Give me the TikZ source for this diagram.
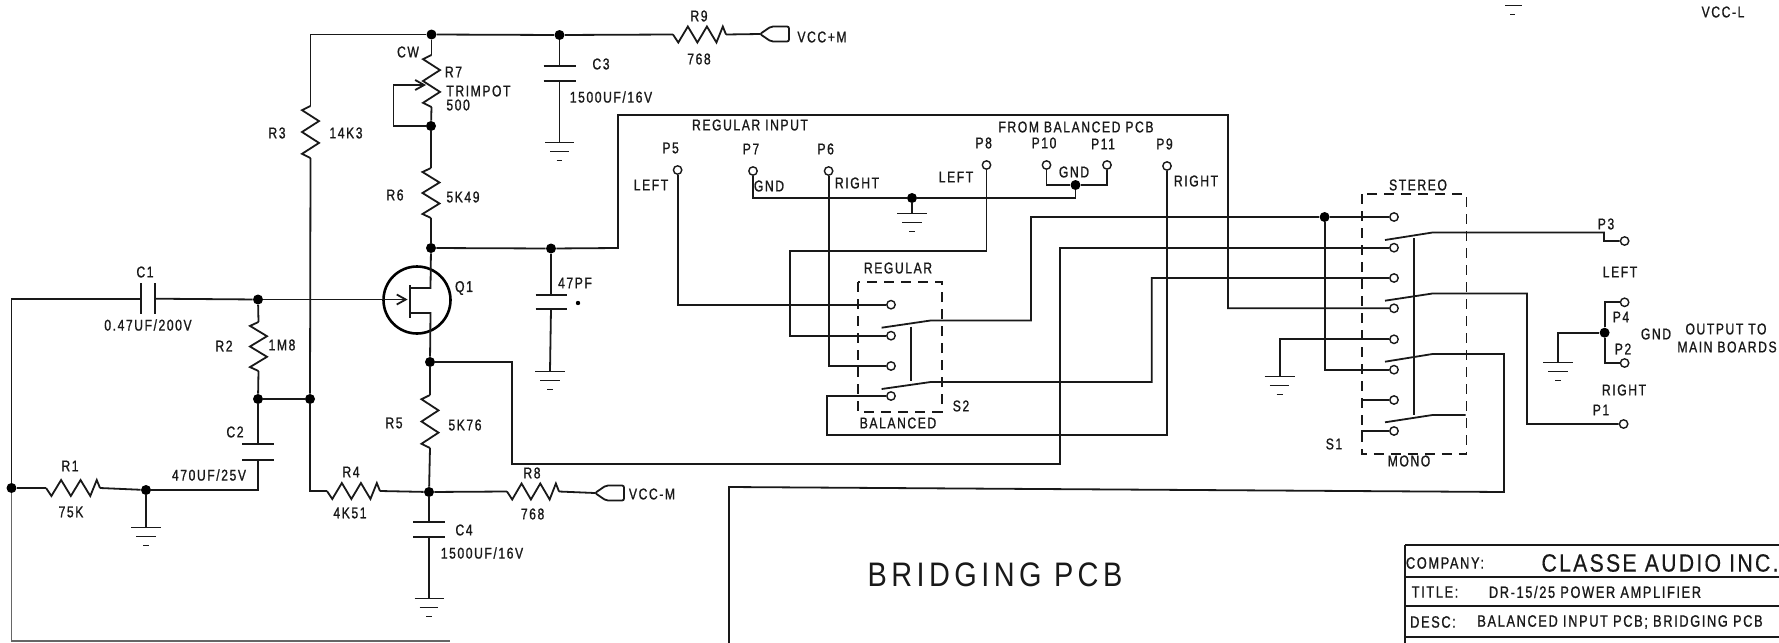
\documentclass[tikz,border=0pt]{standalone}
\usepackage{fontspec}
\setmainfont{Liberation Sans}[FakeStretch=0.78,LetterSpace=10,FakeBold=1]
\newfontfamily\bigf{Liberation Sans}[FakeStretch=0.85,LetterSpace=13]
\newfontfamily\clsf{Liberation Sans}[FakeStretch=0.85,LetterSpace=9,FakeBold=0.4]
\usetikzlibrary{arrows.meta}
\newcommand\lb[4]{\node[lbl] (#1) at (#2,#3) {#4};}
\newcommand\lt[4]{\node[lbl,font=\fontsize{8.2}{10}\selectfont] (#1) at (#2,#3) {#4};}
\newcommand\zigv[4]{%
  \pgfmathsetmacro\hh{#4-#3}
  \coordinate (#1t) at (#2,#3); \coordinate (#1b) at (#2,#4);
  \draw[wire] (#1t) -- ({#2-8.5},{#3+.08*\hh}) -- ({#2+8.5},{#3+.29*\hh}) -- ({#2-8.5},{#3+.5*\hh}) -- ({#2+8.5},{#3+.71*\hh}) -- ({#2-8.5},{#3+.92*\hh}) -- (#1b);}
\newcommand\zigh[4]{%
  \pgfmathsetmacro\hh{#4-#3}
  \coordinate (#1t) at (#3,#2); \coordinate (#1b) at (#4,#2);
  \draw[wire] (#1t) -- ({#3+.1*\hh},{#2+8}) -- ({#3+.28*\hh},{#2-8}) -- ({#3+.46*\hh},{#2+8}) -- ({#3+.64*\hh},{#2-8}) -- ({#3+.82*\hh},{#2+8}) -- ({#3+.94*\hh},{#2-8}) -- (#1b);}
\newcommand\gnd[4]{%
  \coordinate (#1) at (#2,#3);
  \draw[gline] ({#2-#4},#3) -- ({#2+#4},#3);
  \draw[gline] ({#2-.65*#4},{#3+9}) -- ({#2+.65*#4},{#3+9});
  \draw[gline] ({#2-.2*#4},{#3+18}) -- ({#2+.2*#4},{#3+18});}
\newcommand\capv[5]{%
  \coordinate (#1a) at (#2,#3); \coordinate (#1b) at (#2,#4);
  \draw[plate] ({#2-#5},#3) -- ({#2+#5},#3);
  \draw[plate] ({#2-#5},#4) -- ({#2+#5},#4);}
\newcommand\flag[3]{%
  \coordinate (#1) at (#2,#3);
  \draw[wire,rounded corners=1pt] (#1) -- ({#2+11},{#3-7.5}) -- ({#2+29},{#3-7.5}) -- ({#2+29},{#3+7.5}) -- ({#2+11},{#3+7.5}) -- cycle;}
\tikzset{
  wire/.style={line width=0.9pt,black!90},
  gline/.style={line width=0.5pt,black!90},
  plate/.style={line width=1.2pt,black!90},
  dashbox/.style={line width=0.9pt,black!90,dash pattern=on 5pt off 3.5pt},
  lbl/.style={inner sep=0pt,font=\fontsize{7.8}{9}\selectfont,text=black!90,align=center},
  bigl/.style={inner sep=0pt,text=black!90},
  dot/.style={circle,fill=black,inner sep=0pt,minimum size=5pt},
  cont/.style={circle,draw=black!90,line width=0.7pt,fill=white,inner sep=0pt,minimum size=4.2pt}
}
\begin{document}
\begin{tikzpicture}[x=0.5pt,y=-0.5pt]
\useasboundingbox[fill=white] (0,0) rectangle (1779,643);
% junctions
\node[dot] (jA) at (431.5,34.5) {};
\node[dot] (jC3) at (559.5,35) {};
\node[dot] (jR) at (431,126) {};
\node[dot] (jD) at (431,248) {};
\node[dot] (j47) at (551,248.5) {};
\node[dot] (jC1) at (258,299.5) {};
\node[dot] (j2) at (258,399) {};
\node[dot] (j3) at (310,399) {};
\node[dot] (jS) at (430,362) {};
\node[dot] (jB) at (429,492) {};
\node[dot] (jL) at (11.5,488) {};
\node[dot] (jR1) at (146,490) {};
\node[dot] (jg) at (912,198) {};
\node[dot] (jp) at (1075.5,185) {};
\node[dot] (jJ) at (1324.6,217) {};
\node[dot] (jO) at (1604.6,332.7) {};
% resistors
\zigv{R7}{431.5}{55}{107}
\zigv{R3}{310.5}{106}{158}
\zigv{R6}{431}{168}{218}
\zigv{R2}{258.5}{322}{371}
\zigv{R5}{430}{395}{448}
\zigh{R1}{488}{46}{100}
\zigh{R4}{491}{327}{380}
\zigh{R8}{491.5}{507}{559}
\zigh{R9}{34.5}{673}{726}
% capacitors
\capv{C3}{559.5}{66}{81}{16}
\capv{C47}{551}{295}{309}{15.5}
\capv{C2}{258}{444}{460}{16}
\capv{C4}{429}{522}{537}{16}
\coordinate (C1t) at (141,283); \coordinate (C1u) at (141,314);
\coordinate (C1v) at (155,283); \coordinate (C1w) at (155,314);
\draw[wire] (C1t) -- (C1u);
\draw[wire] (C1v) -- (C1w);
\coordinate (C1a) at (141,298.7);
\coordinate (C1b) at (155,298.7);
% grounds
\gnd{gC3}{559.5}{142}{14.5}
\gnd{gC47}{550}{371}{15}
\gnd{gR1}{146}{527}{15}
\gnd{gC4}{429}{598}{14.5}
\gnd{gI}{912}{213}{15}
\gnd{gS}{1279.6}{376.7}{15}
\gnd{gO}{1558}{362.7}{15}
% flags
\flag{fP}{760}{34}
\flag{fM}{595}{493}
% transistor
\node[draw=black,circle,line width=1.3pt,inner sep=0pt,minimum size=33.5pt] (Q1) at (417,300) {};
\coordinate (qd) at (430.5,288); \coordinate (qdg) at (410,288);
\coordinate (qs) at (430.5,313); \coordinate (qsg) at (410,313);
\coordinate (qt) at (410,285); \coordinate (qb) at (410,318);
\coordinate (qa) at (407.6,299.5);
\draw[plate] (qt) -- (qb);
\draw[wire] (jD) -- (qd) -- (qdg);
\draw[wire] (jS) -- (qs) -- (qsg);
\draw[wire,-{Straight Barb[length=4.5pt,width=5pt]}] (jC1) -- (qa);
% left part wiring
\coordinate (rc) at (310.5,34.5);
\draw[wire] (j3) -- (R3b);
\draw[wire] (R3t) -- (rc) -- (jA);
\draw[wire] (jA) -- (jC3) -- (R9t);
\draw[wire] (R9b) -- (fP);
\draw[wire] (jA) -- (R7t);
\draw[wire] (R7b) -- (jR);
\draw[wire] (jR) -- (R6t);
\draw[wire] (R6b) -- (jD);
\coordinate (l1) at (393.4,85);
\coordinate (r7m) at (426,85);
\draw[wire,-{Straight Barb[length=4.5pt,width=5pt]}] (jR) -| (l1) -- (r7m);
\draw[wire] (jC3) -- (C3a);
\draw[wire] (C3b) -- (gC3);
\draw[wire] (jD) -- (j47);
\draw[wire] (j47) -- (C47a);
\draw[wire] (C47b) -- (gC47);
\draw[wire] (jL) |- (C1a);
\draw[wire] (C1b) -- (jC1);
\draw[wire] (jC1) -- (R2t);
\draw[wire] (R2b) -- (j2);
\draw[wire] (j2) -- (j3);
\draw[wire] (j3) |- (R4t);
\draw[wire] (j2) -- (C2a);
\draw[wire] (C2b) |- (jR1);
\draw[wire] (jR1) -- (R1b);
\draw[wire] (R1t) -- (jL);
\draw[wire] (jR1) -- (gR1);
\draw[wire] (R4b) -- (jB);
\draw[wire] (jS) -- (R5t);
\draw[wire] (R5b) -- (jB);
\draw[wire] (jB) -- (R8t);
\draw[wire] (R8b) -- (fM);
\draw[wire] (jB) -- (C4a);
\draw[wire] (C4b) -- (gC4);
\coordinate (bot) at (450,641);
\draw[wire,black!60] (jL) |- (bot);
% contacts S2
\node[cont] (sa) at (891,304.7) {};
\node[cont] (sb) at (891,335.7) {};
\node[cont] (sc) at (891,366) {};
\node[cont] (sd) at (891,396) {};
% contacts S1
\node[cont] (t1) at (1394,217) {};
\node[cont] (t2) at (1394,247.7) {};
\node[cont] (t3) at (1394,278) {};
\node[cont] (t4) at (1394,308.3) {};
\node[cont] (t5) at (1394,339.3) {};
\node[cont] (t6) at (1394,369.7) {};
\node[cont] (t7) at (1394,400) {};
\node[cont] (t8) at (1394,431) {};
% pins
\node[cont] (P5) at (677.6,170) {};
\node[cont] (P7) at (753,171) {};
\node[cont] (P6) at (828.6,171) {};
\node[cont] (P8) at (986.5,165) {};
\node[cont] (P10) at (1046.5,165) {};
\node[cont] (P11) at (1107,165) {};
\node[cont] (P9) at (1167,166) {};
\node[cont] (P3) at (1624.6,241) {};
\node[cont] (P4) at (1624.6,302.3) {};
\node[cont] (P2) at (1624.6,363) {};
\node[cont] (P1) at (1623.6,424) {};
% dashed boxes
\draw[dashbox] (858,282) rectangle (941.6,411.7);
\draw[dashbox] (1361.8,194) rectangle (1466.4,454);
% input wiring
\coordinate (b8) at (790,251);
\coordinate (b9) at (827,435);
\draw[wire] (P5) |- (sa);
\draw[wire] (P6) |- (sc);
\draw[wire] (P8) |- (b8) |- (sb);
\draw[wire] (P9) |- (b9) |- (sd);
\draw[wire] (P7) |- (jg);
\draw[wire] (jg) -| (jp);
\draw[wire] (P10) |- (jp);
\draw[wire] (P11) |- (jp);
\draw[wire] (jg) -- (gI);
% S2 arms
\coordinate (a1s) at (881.6,327.7); \coordinate (a1k) at (930.6,320.5); \coordinate (a1c) at (1031,320.5);
\coordinate (a2s) at (881.6,389); \coordinate (a2k) at (930.6,382); \coordinate (a2c) at (1151.8,382);
\draw[wire] (a1s) -- (a1k) -- (a1c) |- (jJ);
\draw[wire] (jJ) -- (t1);
\draw[wire] (jJ) |- (t6);
\draw[wire] (a2s) -- (a2k) -- (a2c) |- (t3);
\coordinate (lk1) at (911,326.7); \coordinate (lk2) at (911,380.7);
\draw[wire] (lk1) -- (lk2);
% long wires
\coordinate (k1) at (512,362); \coordinate (k2) at (1060,464);
\draw[wire] (jS) -- (k1) |- (k2) |- (t2);
\coordinate (m1) at (618,248); \coordinate (m2) at (1228,115);
\draw[wire] (j47) -- (m1) |- (m2) |- (t4);
\draw[wire] (t5) -| (gS);
% S1 arms
\coordinate (e1s) at (1385,240); \coordinate (e1k) at (1432.5,232.5); \coordinate (e1c) at (1604,232.5);
\coordinate (e2s) at (1385,300.7); \coordinate (e2k) at (1432.5,293.5); \coordinate (e2c) at (1527,293.5);
\coordinate (e3s) at (1385,361.7); \coordinate (e3k) at (1432.5,354); \coordinate (e3c) at (1504,354);
\coordinate (e4s) at (1385,422.3); \coordinate (e4k) at (1432.5,415); \coordinate (e4c) at (1465.7,415);
\coordinate (n1) at (1504,492); \coordinate (n2) at (729,487); \coordinate (n3) at (729,643);
\draw[wire] (e1s) -- (e1k) -- (e1c) |- (P3);
\draw[wire] (e2s) -- (e2k) -- (e2c) |- (P1);
\draw[wire] (e3s) -- (e3k) -- (e3c) -- (n1) -- (n2) -- (n3);
\draw[wire] (e4s) -- (e4k) -- (e4c);
\coordinate (lk3) at (1414,238); \coordinate (lk4) at (1414,415);
\draw[wire] (lk3) -- (lk4);
\coordinate (st7) at (1361.8,400); \coordinate (st7b) at (1361.8,403);
\coordinate (st8) at (1361.8,431); \coordinate (st8b) at (1361.8,437);
\draw[wire] (t7) -- (st7) -- (st7b);
\draw[wire] (t8) -- (st8) -- (st8b);
% output
\draw[wire] (jO) |- (P4);
\draw[wire] (jO) |- (P2);
\draw[wire] (jO) -| (gO);
% stray dot by 47PF
\node[circle,fill=black,inner sep=0pt,minimum size=2.2pt] (d47) at (578,303) {};
% top right fragment
\coordinate (tf1) at (1505,5); \coordinate (tf2) at (1522,5);
\coordinate (tf3) at (1510,14.7); \coordinate (tf4) at (1515,14.7);
\draw[gline] (tf1) -- (tf2);
\draw[gline] (tf3) -- (tf4);
% title block
\coordinate (tbA) at (1405,545); \coordinate (tbB) at (1779,545);
\coordinate (tbC) at (1405,576.7); \coordinate (tbD) at (1779,576.7);
\coordinate (tbE) at (1405,606); \coordinate (tbF) at (1779,606);
\coordinate (tbG) at (1405,636.7); \coordinate (tbH) at (1779,636.7);
\coordinate (tbI) at (1405,643);
\draw[wire] (tbA) -- (tbB);
\draw[wire] (tbC) -- (tbD);
\draw[wire] (tbE) -- (tbF);
\draw[wire] (tbG) -- (tbH);
\draw[wire] (tbA) -- (tbI);
% labels
\lb{lR9}{699}{16}{R9}
\lb{lR9v}{699}{59}{768}
\lb{lVp}{822}{37}{VCC+M}
\lb{lC3}{601}{64}{C3}
\lb{lC3v}{611}{97}{1500UF/16V}
\lb{lCW}{408}{52}{CW}
\lb{lR7}{453.5}{72}{R7}
\node[lbl,anchor=west] (lTR) at (446,91) {TRIMPOT};
\node[lbl,anchor=west] (l500) at (446,105) {500};
\lb{lR3}{277}{133}{R3}
\lb{l14}{346}{133}{14K3}
\lb{lR6}{395}{195}{R6}
\lb{l549}{463}{197}{5K49}
\lb{lC1}{145}{272}{C1}
\lb{lC1v}{148}{325}{0.47UF/200V}
\lb{lQ1}{464}{288}{Q1}
\lb{l47}{575}{283}{47PF}
\lb{lR2}{224}{346}{R2}
\lb{l1M}{282}{345}{1M8}
\lb{lC2}{235}{432}{C2}
\lb{lC2v}{209}{475}{470UF/25V}
\lb{lR1}{70}{466}{R1}
\lb{l75}{71}{512}{75K}
\lb{lR4}{351}{472}{R4}
\lb{l451}{350}{513}{4K51}
\lb{lR5}{394}{423}{R5}
\lb{l576}{465}{425}{5K76}
\lb{lR8}{532}{473}{R8}
\lb{lR8v}{532.6}{514}{768}
\lb{lVm}{652}{494}{VCC-M}
\lb{lC4}{464}{530}{C4}
\lb{lC4v}{482}{553}{1500UF/16V}
\lb{lRI}{750}{125}{REGULAR INPUT}
\lb{lFB}{1076}{127}{FROM BALANCED PCB}
\lb{lP5}{670.6}{148}{P5}
\lb{lP7}{751}{149}{P7}
\lb{lP6}{825.7}{149}{P6}
\lb{lP8}{983.7}{143}{P8}
\lb{lP10}{1044}{143}{P10}
\lb{lP11}{1103}{144}{P11}
\lb{lP9}{1164.5}{144}{P9}
\lb{lLeft1}{651}{185}{LEFT}
\lb{lG1}{769}{186}{GND}
\lb{lRt1}{857}{183}{RIGHT}
\lb{lLeft2}{956}{177}{LEFT}
\lb{lG2}{1074}{172}{GND}
\lb{lRt2}{1196}{181}{RIGHT}
\lb{lReg}{898}{268}{REGULAR}
\lb{lBal}{898}{423}{BALANCED}
\lb{lS2}{961}{406}{S2}
\lb{lSt}{1418}{185}{STEREO}
\lb{lMo}{1409}{461}{MONO}
\lb{lS1}{1334}{444}{S1}
\lb{lP3}{1606}{224}{P3}
\lb{lLft}{1620}{272}{LEFT}
\lb{lP4}{1621}{317}{P4}
\lb{lP2}{1623}{349}{P2}
\lb{lGo}{1656}{334}{GND}
\lb{lOut}{1726}{329}{OUTPUT TO}
\lb{lMB}{1727}{347}{MAIN BOARDS}
\lb{lRgt}{1624}{390}{RIGHT}
\lb{lP1}{1601}{410}{P1}
\lb{lVL}{1723}{12}{VCC-L}
\node[bigl,font=\bigf\fontsize{17}{20}\selectfont] (lBr) at (995,575) {BRIDGING PCB};
\lt{lCo}{1445}{563}{COMPANY:}
\node[bigl,font=\clsf\fontsize{12.5}{15}\selectfont] (lCl) at (1660,563) {CLASSE AUDIO INC.};
\lt{lTi}{1435}{592}{TITLE:}
\lt{lTiv}{1595}{592}{DR-15/25 POWER AMPLIFIER}
\lt{lDe}{1433}{622}{DESC:}
\lt{lDev}{1620}{622}{BALANCED INPUT PCB; BRIDGING PCB}
\end{tikzpicture}
\end{document}
